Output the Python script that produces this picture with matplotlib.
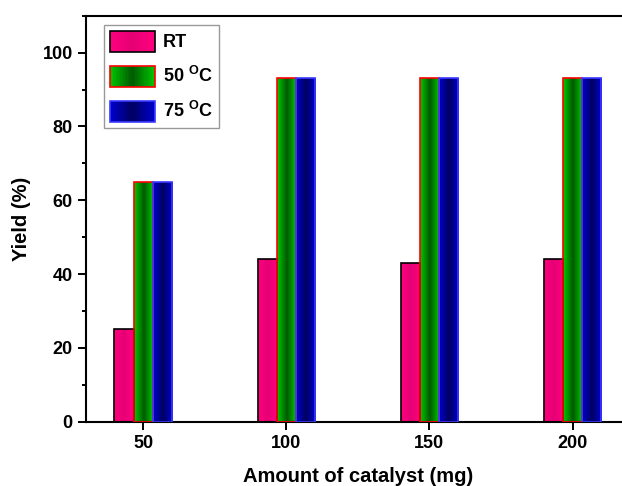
import numpy as np
import matplotlib
matplotlib.use("Agg")
from matplotlib import pyplot as plt
from matplotlib.legend_handler import HandlerBase
from matplotlib.patches import Rectangle
from matplotlib.colors import LinearSegmentedColormap
from matplotlib.ticker import MultipleLocator

plt.rcParams['font.family'] = ['Liberation Sans', 'DejaVu Sans']
plt.rcParams['font.weight'] = 'bold'
plt.rcParams['mathtext.fontset'] = 'custom'
plt.rcParams['mathtext.rm'] = 'Liberation Sans:bold'
plt.rcParams['mathtext.bf'] = 'Liberation Sans:bold'

amounts = [50, 100, 150, 200]
rt = [25, 44, 43, 44]
t50 = [65, 93, 93, 93]
t75 = [65, 93, 93, 93]
labels = ['RT', r'50 $^{\mathrm{O}}$C', r'75 $^{\mathrm{O}}$C']

# edge colour, centre colour, outline
styles = [
    ('#ff0080', '#e60074', 'black'),
    ('#00c800', '#005a00', 'red'),
    ('#0000d0', '#000060', '#3a3aff'),
]


def grad_cmap(edge, centre):
    return LinearSegmentedColormap.from_list('g', [edge, centre, edge])


class GradHandler(HandlerBase):
    def __init__(self, edge, centre, outline):
        super().__init__()
        self.cmap = grad_cmap(edge, centre)
        self.outline = outline

    def create_artists(self, legend, orig, xd, yd, w, h, fs, trans):
        arts = []
        n = 30
        for i in range(n):
            r = Rectangle((-xd + w * i / n, -yd), w / n + 0.3, h,
                          facecolor=self.cmap((i + 0.5) / n), edgecolor='none',
                          transform=trans)
            arts.append(r)
        arts.append(Rectangle((-xd, -yd), w, h, facecolor='none',
                              edgecolor=self.outline, lw=1.2, transform=trans))
        return arts


fig = plt.figure(figsize=(6.22, 4.86), dpi=100)
ax = fig.add_axes([0.138, 0.1323, 0.8746, 0.8354])

width = 20 / 3
x = np.array(amounts, dtype=float)
grad = np.linspace(0, 1, 64).reshape(1, -1)
handles = []
for k, (vals, (edge, centre, outline)) in enumerate(zip([rt, t50, t75], styles)):
    bars = ax.bar(x + (k - 1) * width, vals, width, facecolor='none',
                  edgecolor=outline, lw=1.2, zorder=3)
    cmap = grad_cmap(edge, centre)
    for b in bars:
        im = ax.imshow(grad, cmap=cmap, aspect='auto', zorder=2,
                       extent=[b.get_x(), b.get_x() + b.get_width(), 0, b.get_height()])
        im.set_clip_path(b)
    handles.append(bars[0])

ax.set_xlim(30, 220)
ax.set_ylim(0, 110)
ax.set_xticks(amounts)
ax.yaxis.set_major_locator(MultipleLocator(20))
ax.yaxis.set_minor_locator(MultipleLocator(10))
ax.tick_params(which='major', length=6, width=1.4, labelsize=13)
ax.tick_params(which='minor', length=3.2, width=1.4)
for s in ax.spines.values():
    s.set_linewidth(1.5)

ax.set_xlabel('Amount of catalyst (mg)', fontsize=14.5, fontweight='bold', labelpad=11)
ax.set_ylabel('Yield (%)', fontsize=14.5, fontweight='bold', labelpad=8)

leg = ax.legend(handles, labels, loc='upper left', bbox_to_anchor=(0.016, 1.0),
                fontsize=13, handlelength=2.5, handleheight=1.4,
                labelspacing=0.78, handletextpad=0.45, borderpad=0.35,
                fancybox=False, edgecolor='gray',
                handler_map={h: GradHandler(*st) for h, st in zip(handles, styles)})
leg.get_frame().set_linewidth(1.0)

fig.savefig('out.png', dpi=100)
